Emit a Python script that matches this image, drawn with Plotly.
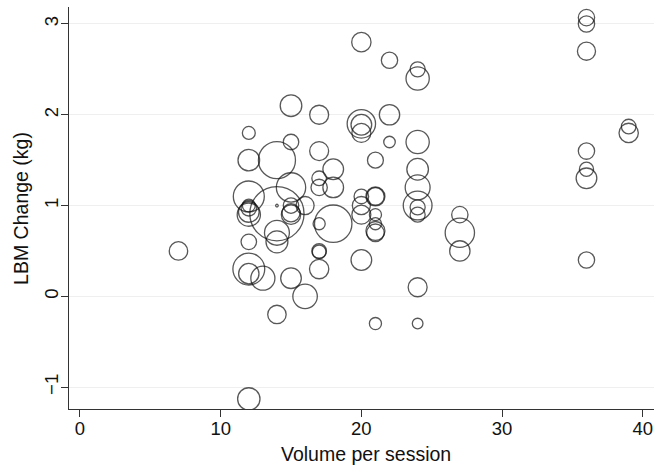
import plotly.graph_objects as go

# Volume per session (x), LBM change in kg (y), study weight (bubble size)
volume = [7,
          12, 12, 12, 12, 12, 12, 12, 12, 12, 12, 12,
          13,
          14, 14, 14, 14, 14, 14,
          15, 15, 15, 15, 15, 15, 15,
          16, 16,
          17, 17, 17, 17, 17, 17, 17, 17,
          18, 18, 18,
          20, 20, 20, 20, 20, 20, 20, 20,
          21, 21, 21, 21, 21, 21, 21, 21,
          22, 22, 22,
          24, 24, 24, 24, 24, 24, 24, 24, 24, 24,
          27, 27, 27,
          36, 36, 36, 36, 36, 36, 36,
          39, 39]
lbm_change = [0.5,
              1.8, 1.5, 1.1, 1.0, 0.97, 0.93, 0.9, 0.6, 0.3, 0.25, -1.13,
              0.2,
              1.5, 1.0, 0.91, 0.7, 0.6, -0.2,
              2.1, 1.7, 1.2, 1.0, 0.92, 0.9, 0.2,
              1.0, 0.0,
              2.0, 1.6, 1.3, 1.2, 0.8, 0.5, 0.49, 0.3,
              1.4, 1.2, 0.8,
              2.8, 1.9, 1.89, 1.8, 1.1, 1.0, 0.9, 0.4,
              1.5, 1.1, 1.1, 0.9, 0.8, 0.72, 0.7, -0.3,
              2.6, 2.0, 1.7,
              2.5, 2.4, 1.7, 1.4, 1.2, 1.0, 0.98, 0.9, 0.1, -0.3,
              0.9, 0.7, 0.5,
              3.07, 3.0, 2.7, 1.6, 1.4, 1.3, 0.4,
              1.87, 1.8]
weight = [51,
          25, 70, 144, 25, 36, 64, 81, 36, 152, 62, 75,
          87,
          206, 1, 441, 93, 72, 51,
          70, 36, 129, 36, 49, 56, 64,
          49, 90,
          54, 54, 32, 40, 22, 32, 28, 56,
          64, 64, 210,
          56, 121, 64, 54, 32, 49, 54, 64,
          38, 54, 46, 22, 22, 54, 46, 22,
          40, 62, 20,
          34, 81, 81, 70, 93, 124, 34, 34, 54, 17,
          40, 129, 62,
          40, 40, 49, 40, 30, 64, 40,
          32, 56]

x_ticks = [0, 10, 20, 30, 40]
y_ticks = [-1, 0, 1, 2, 3]
x_title = "Volume per session"
y_title = "LBM Change (kg)"

FONT = "Liberation Sans, Arial, Helvetica, sans-serif"
INK = "#111111"

fig = go.Figure(go.Scatter(
    x=volume, y=lbm_change, mode="markers",
    marker=dict(size=weight, sizemode="area", sizeref=0.3, sizemin=0,
                symbol="circle-open", color=INK,
                line=dict(width=1.3, color=INK)),
    hoverinfo="x+y",
    showlegend=False,
))

fig.update_layout(
    width=665, height=467,
    margin=dict(l=69, r=11, t=7, b=58, autoexpand=False),
    paper_bgcolor="white", plot_bgcolor="white",
    font=dict(family=FONT, size=18, color="#111"),
    annotations=[
        dict(text=x_title, xref="paper", yref="paper", x=0.508, y=-0.08,
             xanchor="center", yanchor="top", showarrow=False,
             font=dict(size=19.5, family=FONT, color="#111")),
        dict(text=y_title, xref="paper", yref="paper", x=-0.06, y=0.5,
             xanchor="right", yanchor="middle", textangle=-90, showarrow=False,
             font=dict(size=19.5, family=FONT, color="#111")),
    ],
)
fig.update_xaxes(
    range=[-0.78, 40.8], tickvals=x_ticks, ticks="outside", ticklen=7,
    tickwidth=1.3, tickcolor="#333", showline=True, linecolor="#333",
    linewidth=1.3, showgrid=False, zeroline=False, automargin=False,
    ticklabelstandoff=-4,
    tickfont=dict(size=18.5, family=FONT),
)
fig.update_yaxes(
    range=[-1.241, 3.187], tickvals=y_ticks, ticks="outside", ticklen=7,
    tickwidth=1.3, tickcolor="#333", showline=True, linecolor="#333",
    linewidth=1.3, showgrid=True, gridcolor="#efefef", gridwidth=1,
    zeroline=False, tickangle=-90, automargin=False,
    ticklabelstandoff=-5,
    tickfont=dict(size=18.5, family=FONT),
)

fig.write_html("out.html",
               config={"displayModeBar": False},
               post_script="document.body.style.margin='0';")
